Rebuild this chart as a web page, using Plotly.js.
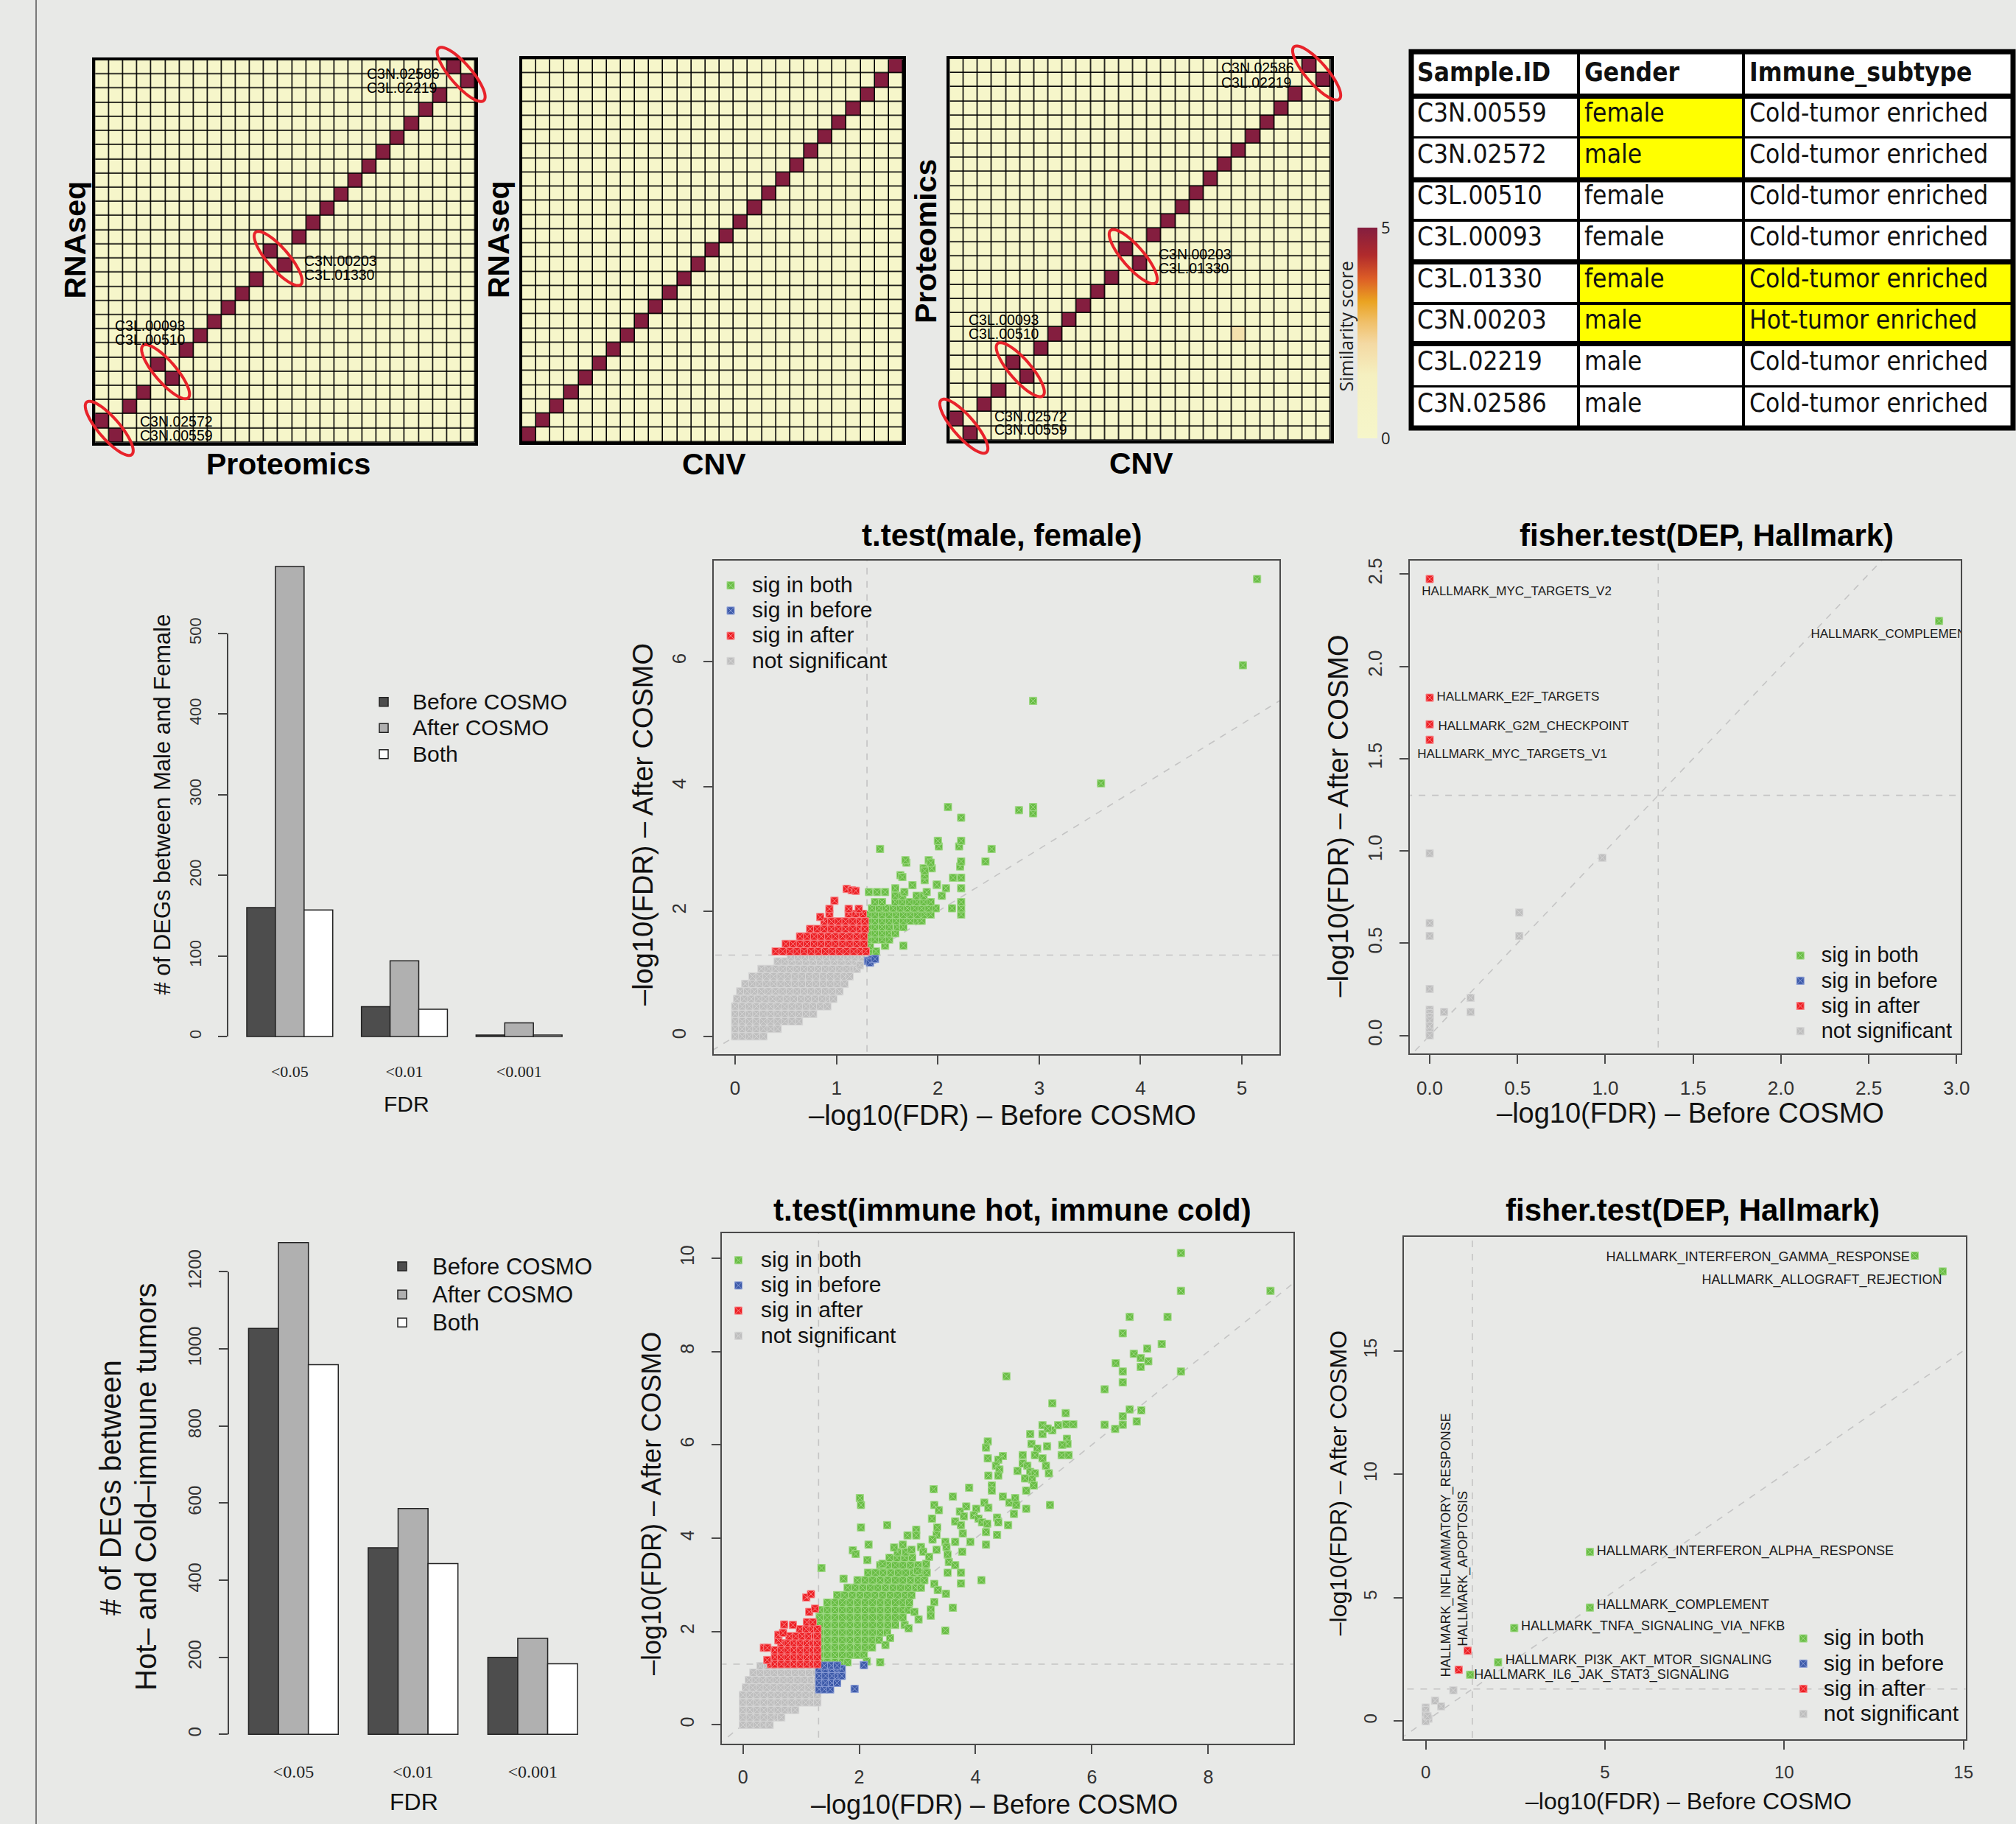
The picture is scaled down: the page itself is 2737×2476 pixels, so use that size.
<!DOCTYPE html>
<html>
<head>
<meta charset="utf-8">
<script src="https://cdn.plot.ly/plotly-3.0.1.min.js"></script>
<style>
html,body{margin:0;padding:0;background:#e8e9e7;}
#chart{width:2737px;height:2476px;}
</style>
</head>
<body>
<div id="chart"></div>
<script>
// ======================= DATA =======================
const sampleCount = 27;
// For each row (row 0 = bottom) the column of the best-matching sample
const rnaVsProtMatch = [1,0,2,3,5,4,6,7,8,9,10,11,13,12,14,15,16,17,18,19,20,21,22,23,24,26,25];
const rnaVsCnvMatch  = [0,1,2,3,4,5,6,7,8,9,10,11,12,13,14,15,16,17,18,19,20,21,22,23,24,25,26];
const protVsCnvMatch = [1,0,2,3,5,4,6,7,8,9,10,11,13,12,14,15,16,17,18,19,20,21,22,23,24,26,25];
const matchScore = 5;
const protVsCnvWeakRow = [7];
const protVsCnvWeakCol = [20];
const protVsCnvWeakScore = [2];
const swappedPairStart = [0, 4, 12, 25];
const heatLabelTexts = ["C3N.02586","C3L.02219","C3N.00203","C3L.01330","C3L.00093","C3L.00510","C3N.02572","C3N.00559"];

// Table
const tableHeader = ["Sample.ID", "Gender", "Immune_subtype"];
const sampleIds = ["C3N.00559","C3N.02572","C3L.00510","C3L.00093","C3L.01330","C3N.00203","C3L.02219","C3N.02586"];
const genders = ["female","male","female","female","female","male","male","male"];
const immuneSubtypes = ["Cold-tumor enriched","Cold-tumor enriched","Cold-tumor enriched","Cold-tumor enriched","Cold-tumor enriched","Hot-tumor enriched","Cold-tumor enriched","Cold-tumor enriched"];
const genderHighlight = [1,1,0,0,1,1,0,0];
const immuneHighlight = [0,0,0,0,1,1,0,0];

// Bar charts
const fdrCats = ["<0.05", "<0.01", "<0.001"];
const sexBefore = [160, 37, 2];
const sexAfter  = [583, 94, 17];
const sexBoth   = [157, 34, 2];
const immBefore = [1053, 484, 200];
const immAfter  = [1276, 586, 249];
const immBoth   = [959, 443, 183];

// Scatter 1: t.test(male, female)  rows = [y, [x...]], pts = [x, y]
const s1NsRows = [
 [0.00,[0,0.07,0.14,0.21,0.28]],
 [0.12,[0,0.07,0.14,0.21,0.28,0.35,0.42]],
 [0.24,[0,0.07,0.14,0.21,0.28,0.35,0.42,0.49,0.56,0.63]],
 [0.36,[0,0.07,0.14,0.21,0.28,0.35,0.42,0.49,0.56,0.63,0.70,0.77]],
 [0.48,[0,0.07,0.14,0.21,0.28,0.35,0.42,0.49,0.56,0.63,0.70,0.77,0.84,0.91]],
 [0.60,[0.02,0.09,0.16,0.23,0.30,0.37,0.44,0.51,0.58,0.65,0.72,0.79,0.86,0.93,0.97]],
 [0.72,[0.05,0.12,0.19,0.26,0.33,0.40,0.47,0.54,0.61,0.68,0.75,0.82,0.89,0.96,1.03]],
 [0.84,[0.10,0.17,0.24,0.31,0.38,0.45,0.52,0.59,0.66,0.73,0.80,0.87,0.94,1.01,1.08]],
 [0.96,[0.17,0.24,0.31,0.38,0.45,0.52,0.59,0.66,0.73,0.80,0.87,0.94,1.01,1.08,1.13]],
 [1.08,[0.26,0.33,0.40,0.47,0.54,0.61,0.68,0.75,0.82,0.89,0.96,1.03,1.10,1.17,1.20]],
 [1.20,[0.42,0.49,0.56,0.63,0.70,0.77,0.84,0.91,0.98,1.05,1.12,1.19,1.25]],
 [1.27,[0.55,0.62,0.69,0.76,0.83,0.90,0.97,1.04,1.11,1.18,1.25]]
];
const s1NsPts = [[1.23,1.14]];
const s1AfterRows = [
 [1.36,[0.40,0.47,0.54,0.61,0.68,0.75,0.82,0.89,0.96,1.03,1.10,1.17,1.24,1.29]],
 [1.48,[0.50,0.57,0.64,0.71,0.78,0.85,0.92,0.99,1.06,1.13,1.20,1.27]],
 [1.60,[0.64,0.71,0.78,0.85,0.92,0.99,1.06,1.13,1.20,1.27]],
 [1.72,[0.74,0.81,0.88,0.95,1.02,1.09,1.16,1.23,1.28]],
 [1.84,[0.88,0.95,1.02,1.09,1.16,1.23,1.28]],
 [1.96,[0.93,1.12,1.19,1.26]],
 [2.04,[0.93,1.12,1.22]]
];
const s1AfterPts = [[0.84,1.91],[0.98,2.17],[1.10,2.36],[1.15,2.34],[1.19,2.33]];
const s1BeforePts = [[1.31,1.21],[1.35,1.23],[1.33,1.18],[1.38,1.24]];
const s1BothRows = [
 [1.36,[1.32,1.39]],
 [1.45,[1.33,1.48,1.66]],
 [1.55,[1.31,1.38,1.45,1.52]],
 [1.65,[1.31,1.38,1.45,1.52,1.58]],
 [1.75,[1.31,1.38,1.45,1.52,1.60,1.66]],
 [1.85,[1.31,1.38,1.45,1.52,1.59,1.66,1.73,1.80,1.84]],
 [1.95,[1.31,1.38,1.45,1.52,1.59,1.66,1.73,1.80,1.87,1.93]],
 [2.05,[1.35,1.42,1.49,1.56,1.63,1.70,1.77,1.84,1.91,1.98]],
 [2.15,[1.38,1.45,1.58,1.65,1.72,1.79,1.86,1.93]],
 [2.25,[1.58,1.65,1.79,1.86]]
];
const s1BothPts = [[2.23,1.95],[2.14,2.05],[2.23,2.05],[2.23,2.15],[2.04,2.25],[1.32,2.31],[1.40,2.31],[1.48,2.31],
 [1.67,2.31],[1.89,2.31],[1.58,2.37],[2.08,2.37],[2.23,2.37],[1.99,2.42],[1.75,2.42],[1.87,2.50],[2.15,2.54],[2.23,2.54],
 [1.63,2.58],[1.87,2.58],[1.86,2.69],[1.94,2.69],[2.22,2.72],[2.47,2.80],[2.23,2.80],[1.69,2.78],[1.65,2.55],[1.68,2.82],
 [1.91,2.82],[1.43,3.00],[2.53,3.00],[2.01,3.04],[2.21,3.04],[2.00,3.13],[2.23,3.13],[2.23,3.50],[2.94,3.57],[2.80,3.62],
 [2.10,3.67],[2.94,3.67],[3.61,4.05],[2.94,5.37],[5.01,5.94],[5.15,7.32],[1.99,2.43],[1.93,2.78],[1.87,2.65]];

// Scatter 2: t.test(immune hot, immune cold)
const s2NsRows = [
 [0.00,[0,0.12,0.24,0.36,0.46]],
 [0.16,[0,0.12,0.24,0.36,0.48,0.60,0.66]],
 [0.32,[0,0.12,0.24,0.36,0.48,0.60,0.72,0.84,0.90]],
 [0.48,[0,0.12,0.24,0.36,0.48,0.60,0.72,0.84,0.96,1.08,1.20,1.28]],
 [0.64,[0,0.12,0.24,0.36,0.48,0.60,0.72,0.84,0.96,1.08,1.20,1.28]],
 [0.80,[0.05,0.17,0.29,0.41,0.53,0.65,0.77,0.89,1.01,1.13,1.25]],
 [0.96,[0.10,0.22,0.34,0.46,0.58,0.70,0.82,0.94,1.06,1.18,1.28]],
 [1.12,[0.18,0.30,0.42,0.54,0.66,0.78,0.90,1.02,1.14,1.26]],
 [1.26,[0.30,0.42,0.54,0.66,0.78,0.90,1.02,1.14,1.26]]
];
const s2NsPts = [];
const s2BeforeRows = [
 [0.76,[1.31,1.40,1.50]],
 [0.90,[1.31,1.42,1.53,1.62]],
 [1.05,[1.31,1.42,1.53,1.64,1.70]],
 [1.20,[1.31,1.42,1.53,1.64,1.70]],
 [1.27,[1.40,1.52,1.62]]
];
const s2BeforePts = [[1.92,0.77],[2.08,1.28]];
const s2AfterRows = [
 [1.30,[0.48,0.55,0.66,0.77,0.88,0.99,1.10,1.21,1.28]],
 [1.45,[0.55,0.66,0.77,0.88,0.99,1.10,1.21,1.28]],
 [1.60,[0.55,0.66,0.77,0.88,0.99,1.10,1.21,1.28]],
 [1.75,[0.66,0.77,0.88,0.99,1.10,1.21,1.28]],
 [1.90,[0.80,0.91,1.02,1.13,1.24,1.28]],
 [2.05,[0.98,1.09,1.20,1.28]],
 [2.20,[1.10,1.20]]
];
const s2AfterPts = [[0.36,1.65],[0.42,1.65],[0.42,1.39],[0.61,1.81],[0.61,1.93],[0.71,2.15],[0.86,2.14],
 [1.14,2.42],[1.24,2.49],[1.09,2.73],[1.17,2.80],[0.69,1.97]];
const s2BothRows = [
 [1.34,[1.32,1.45,1.58,1.71,1.80]],
 [1.50,[1.32,1.45,1.58,1.71,1.84,1.97,2.08]],
 [1.66,[1.32,1.45,1.58,1.71,1.84,1.97,2.10,2.22]],
 [1.82,[1.32,1.45,1.58,1.71,1.84,1.97,2.10,2.23,2.34]],
 [1.98,[1.32,1.45,1.58,1.71,1.84,1.97,2.10,2.23,2.36,2.48]],
 [2.14,[1.32,1.45,1.58,1.71,1.84,1.97,2.10,2.23,2.36,2.49,2.62,2.78]],
 [2.30,[1.32,1.45,1.58,1.71,1.84,1.97,2.10,2.23,2.36,2.49,2.62,2.75]],
 [2.46,[1.32,1.45,1.58,1.71,1.84,1.97,2.10,2.23,2.36,2.49,2.62,2.75,2.85]],
 [2.62,[1.45,1.58,1.71,1.84,1.97,2.10,2.23,2.36,2.49,2.62,2.75,2.86]],
 [2.78,[1.62,1.75,1.88,2.01,2.14,2.27,2.40,2.53,2.66,2.79,2.90]],
 [2.94,[1.80,1.93,2.06,2.19,2.32,2.45,2.58,2.71,2.84,2.97,3.06]],
 [3.10,[1.97,2.10,2.23,2.36,2.49,2.62,2.75,2.88,3.01,3.12]],
 [3.26,[2.15,2.28,2.41,2.54,2.67,2.80,2.93,3.06,3.16]],
 [3.42,[2.36,2.49,2.62,2.75,2.88,3.01,3.14]],
 [3.58,[2.52,2.65,2.78,2.91]],
 [3.70,[2.66,2.80]]
];
const s2BothPts = [[5.32,6.89],[5.55,6.68],[5.56,6.44],[5.68,6.44],[5.15,6.42],[5.15,6.23],[5.32,6.31],[5.42,6.42],[5.24,6.35],
 [4.94,6.23],[4.96,6.02],[4.21,6.07],[4.18,5.94],[5.57,6.13],[5.58,6.02],[5.49,6.00],
 [4.81,5.78],[5.06,5.92],[5.23,5.97],[5.15,5.71],[5.02,5.78],[5.48,5.78],[5.60,5.78],
 [4.47,5.76],[4.39,5.68],[4.21,5.71],[4.35,5.55],[4.41,5.47],[4.81,5.60],[4.89,5.55],[5.21,5.55],
 [4.72,5.44],[4.94,5.42],[5.02,5.39],[4.97,5.26],[5.26,5.39],[4.22,5.34],[4.39,5.34],[4.85,5.28],
 [4.28,5.13],[4.28,5.02],[5.00,5.13],[4.87,5.02],[3.89,5.08],[3.28,5.05],[3.61,4.89],
 [4.47,4.89],[4.58,4.76],[4.68,4.86],[4.70,4.71],[3.29,4.71],[3.37,4.60],[3.84,4.68],[4.01,4.63],
 [4.15,4.76],[4.22,4.65],[4.87,4.63],[5.28,4.71],[4.66,4.52],[3.73,4.57],[3.80,4.47],
 [3.97,4.49],[4.05,4.42],[4.11,4.34],[4.20,4.31],[4.37,4.44],[4.39,4.34],[4.56,4.28],
 [3.25,4.42],[3.65,4.36],[3.75,4.28],[3.78,4.10],[4.18,4.13],[4.18,3.86],[4.37,4.07],[3.91,3.92],
 [3.34,4.23],[3.33,4.07],[3.26,3.97],[3.65,3.92],[3.77,3.71],[2.01,4.86],[2.03,4.71],[2.03,4.23],
 [2.48,4.28],[2.16,3.86],[1.89,3.74],[1.94,3.66],[2.14,3.53],[2.83,4.06],[2.98,4.18],[2.98,4.06],
 [3.06,3.81],[3.10,3.71],[2.75,3.86],[3.48,3.92],[3.50,3.81],[3.52,3.65],[3.54,3.49],[3.52,3.26],
 [3.65,3.42],[3.75,3.26],[3.75,3.03],[4.10,3.10],[3.15,3.45],[3.29,3.02],[3.35,2.89],[3.49,2.81],
 [3.61,2.51],[3.29,2.63],[3.23,2.47],[3.23,2.34],[2.95,2.42],[3.02,2.26],[2.85,2.07],[3.48,2.02],
 [1.35,3.36],[1.73,3.13],[2.53,1.86],[2.45,1.71],[2.36,1.34],[2.13,1.36],
 [3.00,3.30],[3.20,3.60],[2.90,3.75],[3.33,3.75],[2.60,3.80],[2.40,3.45],
 [7.53,10.11],[7.53,9.30],[9.07,9.30],[6.65,8.74],[7.30,8.74],[6.53,8.39],[7.20,8.16],[6.41,7.75],
 [6.53,7.57],[6.72,7.95],[6.84,7.86],[6.95,8.06],[6.84,7.67],[6.97,7.79],[7.53,7.57],[6.22,7.19],
 [6.53,7.34],[6.65,6.76],[6.85,6.74],[6.53,6.61],[6.53,6.43],[6.22,6.43],[6.40,6.34],[6.77,6.50],
 [4.53,7.47]];

// Fisher 1 (male vs female, Hallmark)
const f1AfterPts = [[0,2.473],[0,1.83],[0,1.686],[0,1.602]];
const f1BothPts = [[2.90,2.246]];
const f1BeforePts = [];
const f1NsPts = [[0,0.987],[0.983,0.963],[0,0.609],[0,0.539],[0.51,0.666],[0.51,0.539],[0,0.252],[0,0.14],[0,0.12],
 [0,0.10],[0,0.08],[0,0.05],[0,0.02],[0,0.0],[0.082,0.127],[0.233,0.204],[0.233,0.127]];
const f1LabelText = ["HALLMARK_MYC_TARGETS_V2","HALLMARK_COMPLEMENT","HALLMARK_E2F_TARGETS","HALLMARK_G2M_CHECKPOINT","HALLMARK_MYC_TARGETS_V1"];
const f1LabelX = [-0.045, 2.17, 0.04, 0.048, -0.07];
const f1LabelY = [2.403, 2.171, 1.832, 1.672, 1.521];

// Fisher 2 (immune hot vs cold, Hallmark)
const f2BothPts = [[13.64,18.85],[14.42,18.21],[4.58,6.85],[4.58,4.60],[2.47,3.77],[2.02,2.38],[1.24,1.88]];
const f2AfterPts = [[1.17,2.85],[0.92,2.08]];
const f2BeforePts = [];
const f2NsPts = [[0.77,1.25],[0.26,0.83],[0.43,0.60],[0,0.55],[0,0.45],[0,0.25],[0.08,0.10],[0,0.05],[0,0.0],[0.05,0.2]];
const f2LabelLeftText = ["HALLMARK_INTERFERON_GAMMA_RESPONSE","HALLMARK_ALLOGRAFT_REJECTION"];
const f2LabelLeftX = [13.50, 14.40];
const f2LabelLeftY = [18.75, 17.83];
const f2LabelRightText = ["HALLMARK_INTERFERON_ALPHA_RESPONSE","HALLMARK_COMPLEMENT","HALLMARK_TNFA_SIGNALING_VIA_NFKB","HALLMARK_PI3K_AKT_MTOR_SIGNALING","HALLMARK_IL6_JAK_STAT3_SIGNALING"];
const f2LabelRightX = [4.77, 4.77, 2.66, 2.22, 1.35];
const f2LabelRightY = [6.85, 4.67, 3.80, 2.43, 1.85];
const f2VertText = ["HALLMARK_INFLAMMATORY_RESPONSE","HALLMARK_APOPTOSIS"];
const f2VertX = [0.565, 1.04];
const f2VertY = [7.13, 6.17];

const sigCut = -Math.log10(0.05);

// ======================= STYLE / LAYOUT =======================
const W = 2737, H = 2476;
const BG = '#e8e9e7';
const SANS = '"Liberation Sans", Arial, Helvetica, sans-serif';
const SERIF = '"Liberation Serif", "Times New Roman", serif';
const COND = '"DejaVu Sans Condensed", "DejaVu Sans", sans-serif';
const C_BOTH = '#69bd45', C_BOTH_L = '#a0d987';
const C_BEFORE = '#3d5aa9', C_BEFORE_L = '#8b9ed6';
const C_AFTER = '#ed1f24', C_AFTER_L = '#f88588';
const C_NS = '#bebebe', C_NS_L = '#d6d6d6';
const BAR_BEFORE = '#4d4d4d', BAR_AFTER = '#b0b0b0', BAR_BOTH = '#ffffff';
const heatScale = [[0,'#f6f6ca'],[0.3,'#f5f0c0'],[0.45,'#f4d9a3'],[0.55,'#f0c06a'],[0.65,'#eaa321'],[0.76,'#dc5c26'],[0.87,'#b02a2c'],[1,'#841e3f']];

const PX = x => x / W;
const PY = y => 1 - y / H;

const layout = {
  width: W, height: H, margin: {l:0, r:0, t:0, b:0},
  paper_bgcolor: BG, plot_bgcolor: BG,
  font: {family: SANS, size: 24, color: '#222'},
  showlegend: true, hovermode: false,
  shapes: [], annotations: []
};
const data = [];

function ann(text, x, y, size, opts) {
  layout.annotations.push(Object.assign({
    xref:'paper', yref:'paper', x: PX(x), y: PY(y), text: text, showarrow:false,
    xanchor:'center', yanchor:'middle', font:{family:SANS, size:size, color:'#111'}
  }, opts || {}));
}

// ---------- Heatmaps ----------
const heatBoxes = [
  {n:'',  L:129.2, R:645.2,  T:81.8, B:600.7, match:rnaVsProtMatch, wr:[], wc:[], wv:[], pairs:true},
  {n:'2', L:709,   R:1226,   T:80.3, B:600,   match:rnaVsCnvMatch,  wr:[], wc:[], wv:[], pairs:false},
  {n:'3', L:1289.4,R:1806.7, T:79.9, B:597.7, match:protVsCnvMatch, wr:protVsCnvWeakRow, wc:protVsCnvWeakCol, wv:protVsCnvWeakScore, pairs:true}
];
const idx = Array.from({length: sampleCount}, (_, i) => i);
heatBoxes.forEach((hb, k) => {
  const z = idx.map(r => idx.map(c => (c === hb.match[r] ? matchScore : 0)));
  hb.wr.forEach((r, i) => { z[r][hb.wc[i]] = hb.wv[i]; });
  const tr = {
    type:'heatmap', z: z, x: idx, y: idx, xaxis:'x'+hb.n, yaxis:'y'+hb.n,
    colorscale: heatScale, zmin:0, zmax:matchScore, xgap:1.6, ygap:1.6, hoverinfo:'skip',
    showscale: k === 2
  };
  if (k === 2) {
    tr.colorbar = {x: PX(1843), xanchor:'left', xpad:0, y: PY(452.3), yanchor:'middle', ypad:0,
      len: 285.5, lenmode:'pixels', thickness: 27, thicknessmode:'pixels', outlinewidth:0,
      tickvals:[0, matchScore], ticktext:['0', String(matchScore)], ticks:'', tickfont:{family:'"Open Sans", sans-serif', size:22, color:'#222'}};
  }
  data.push(tr);
  const ax = {range:[-0.5, sampleCount-0.5], showticklabels:false, ticks:'', showgrid:false, zeroline:false,
    showline:true, mirror:true, linecolor:'#000', linewidth:4, fixedrange:true};
  layout['xaxis'+hb.n] = Object.assign({}, ax, {domain:[PX(hb.L), PX(hb.R)], anchor:'y'+hb.n});
  layout['yaxis'+hb.n] = Object.assign({}, ax, {domain:[PY(hb.B), PY(hb.T)], anchor:'x'+hb.n});
  layout.shapes.push({type:'rect', xref:'x'+hb.n+' domain', yref:'y'+hb.n+' domain', x0:0, x1:1, y0:0, y1:1,
    fillcolor:'#000', line:{width:0}, layer:'below'});
  if (hb.pairs) {
    const cw = (hb.R - hb.L) / sampleCount, ch = (hb.B - hb.T) / sampleCount;
    const a = 2.45, b = 0.75, th = -49 * Math.PI / 180;
    swappedPairStart.forEach(c => {
      let d = '';
      for (let i = 0; i <= 60; i++) {
        const t = i / 60 * 2 * Math.PI;
        const ex = a*Math.cos(t)*Math.cos(th) - b*Math.sin(t)*Math.sin(th);
        const ey = a*Math.cos(t)*Math.sin(th) + b*Math.sin(t)*Math.cos(th);
        const X = hb.L + (c + 1 + ex) * cw;
        const Y = hb.B - (c + 1 + ey) * ch;
        d += (i ? 'L' : 'M') + PX(X).toFixed(5) + ',' + PY(Y).toFixed(5);
      }
      layout.shapes.push({type:'path', xref:'paper', yref:'paper', path: d + 'Z', line:{color:'#e8232b', width:4}, layer:'above'});
    });
  }
});
// sample labels next to the swapped pairs
const heatLabelPos = [
  [[496,100],[496,119],[411,353.5],[411,372.7],[154,442],[154,461],[187.5,572],[187.5,591]],
  [[1655.6,92.5],[1655.6,111.7],[1571,345],[1571,364],[1313,434],[1313,453],[1348,565],[1348,583.5]]
];
heatLabelPos.forEach(list => list.forEach((p, i) => {
  ann(heatLabelTexts[i], p[0], p[1], 19.5, {xanchor:'left', font:{family:SANS, size:19.5, color:'#000'}});
}));
ann('<b>RNAseq</b>', 101.5, 326, 41, {textangle:-90, font:{family:SANS, size:41, color:'#000'}});
ann('<b>RNAseq</b>', 677, 326, 41, {textangle:-90, font:{family:SANS, size:41, color:'#000'}});
ann('<b>Proteomics</b>', 1257, 328, 41, {textangle:-90, font:{family:SANS, size:41, color:'#000'}});
ann('<b>Proteomics</b>', 391.4, 630, 41, {font:{family:SANS, size:41, color:'#000'}});
ann('<b>CNV</b>', 969, 630, 41, {font:{family:SANS, size:41, color:'#000'}});
ann('<b>CNV</b>', 1549, 629, 41, {font:{family:SANS, size:41, color:'#000'}});
ann('Similarity score', 1826, 443.5, 25, {textangle:-90, font:{family:'"Open Sans", sans-serif', size:25, color:'#222'}});

// ---------- Table ----------
const TBL = {L:1916, R:2733, T:70.3, B:581};
data.push({
  type:'table',
  domain:{x:[PX(TBL.L), PX(TBL.R)], y:[PY(TBL.B+2), PY(TBL.T)]},
  columnwidth:[227, 224, 366],
  header:{values: tableHeader.map(h => '<b>' + h + '</b>'), height:60, align:'left',
    fill:{color:'#ffffff'}, line:{color:'#000', width:3.5},
    font:{family:COND, size:35, color:'#111'}},
  cells:{values:[sampleIds, genders, immuneSubtypes], height:56.3, align:'left',
    fill:{color:[sampleIds.map(() => '#ffffff'),
                 genderHighlight.map(h => h ? '#ffff00' : '#ffffff'),
                 immuneHighlight.map(h => h ? '#ffff00' : '#ffffff')]},
    line:{color:'#000', width:3.5},
    font:{family:COND, size:35, color:'#111'}}
});
[130.6, 244, 355.5, 466.4].forEach(y => layout.shapes.push({type:'line', xref:'paper', yref:'paper',
  x0:PX(TBL.L), x1:PX(TBL.R), y0:PY(y), y1:PY(y), line:{color:'#000', width:7}, layer:'above'}));
layout.shapes.push({type:'rect', xref:'paper', yref:'paper', x0:PX(TBL.L), x1:PX(TBL.R), y0:PY(TBL.B), y1:PY(TBL.T),
  line:{color:'#000', width:7}, fillcolor:'rgba(0,0,0,0)', layer:'above'});

// ---------- Bar charts ----------
const lg = (t, s) => '<span style="font-size:' + s + 'px">' + t + '</span>';
function barChart(n, dom, xr, yr, yticks, series, legendId, legendFont, legendSize, tickSize, catSize) {
  const names = ['Before COSMO', 'After COSMO', 'Both'];
  const cols = [BAR_BEFORE, BAR_AFTER, BAR_BOTH];
  series.forEach((vals, k) => data.push({
    type:'bar', x: fdrCats, y: vals, xaxis:'x'+n, yaxis:'y'+n, name: lg(names[k], legendSize),
    legend: legendId, marker:{color: cols[k], line:{color:'#222', width:1.5}}, hoverinfo:'skip'
  }));
  layout['xaxis'+n] = {domain:[PX(dom.L), PX(dom.R)], range:xr, anchor:'y'+n, type:'category',
    showline:false, showgrid:false, zeroline:false, ticks:'', fixedrange:true,
    tickfont:{family:SERIF, size:catSize, color:'#222'}};
  layout['yaxis'+n] = {domain:[PY(dom.B), PY(dom.T)], range:yr, anchor:'x'+n, showline:false, showgrid:false,
    zeroline:false, tickvals: yticks, ticks:'outside', ticklen:12, tickwidth:2, tickcolor:'#444', tickangle:-90,
    ticklabelstandoff:14, tickfont:{family:SANS, size:tickSize, color:'#333'}, fixedrange:true};
  layout.shapes.push({type:'line', xref:'paper', yref:'y'+n, x0:PX(dom.L), x1:PX(dom.L),
    y0: yticks[0], y1: yticks[yticks.length-1], line:{color:'#444', width:2}});
}
layout.barmode = 'group';
layout.bargap = 0.25;
layout.bargroupgap = 0;
barChart('4', {L:309, R:781, T:743.1, B:1439.3}, [-0.542, 2.49], [-29.4, 606.6], [0,100,200,300,400,500],
  [sexBefore, sexAfter, sexBoth], 'legend', 25, 30, 22, 22);
barChart('7', {L:310, R:801.2, T:1659.8, B:2388}, [-0.544, 2.48], [-64.3, 1327.3], [0,200,400,600,800,1000,1200],
  [immBefore, immAfter, immBoth], 'legend4', 27, 31, 24, 24);
ann('# of DEGs between Male and Female', 219.5, 1092, 31, {textangle:-90, font:{family:SANS, size:31, color:'#111'}});
ann('FDR', 552, 1498, 30, {font:{family:SANS, size:30, color:'#111'}});
ann('# of DEGs between', 150, 2020, 40, {textangle:-90, font:{family:SANS, size:40, color:'#111'}});
ann('Hot\u2013 and Cold\u2013immune tumors', 198, 2018, 40, {textangle:-90, font:{family:SANS, size:40, color:'#111'}});
ann('FDR', 561.5, 2446, 32, {font:{family:SANS, size:32, color:'#111'}});

// ---------- Scatter plots ----------
function flatten(rows, pts) {
  const x = [], y = [];
  rows.forEach(r => r[1].forEach(v => { x.push(v); y.push(r[0]); }));
  pts.forEach(p => { x.push(p[0]); y.push(p[1]); });
  if (!x.length) { x.push(null); y.push(null); }  // keeps the (empty) category in the legend
  return {x, y};
}
function scatterSet(n, sets, legendId, legendSize) {
  const specs = [
    {key:'ns', name:'not significant', c:C_NS, l:C_NS_L, rank:4},
    {key:'both', name:'sig in both', c:C_BOTH, l:C_BOTH_L, rank:1},
    {key:'before', name:'sig in before', c:C_BEFORE, l:C_BEFORE_L, rank:2},
    {key:'after', name:'sig in after', c:C_AFTER, l:C_AFTER_L, rank:3}
  ];
  specs.forEach(s => {
    const f = flatten(sets[s.key][0], sets[s.key][1]);
    data.push({type:'scatter', mode:'markers', x:f.x, y:f.y, xaxis:'x'+n, yaxis:'y'+n,
      name: lg(s.name, legendSize), legend: legendId, legendrank: s.rank, hoverinfo:'skip',
      marker:{symbol:'square-x', size:10, color:s.c, line:{color:s.l, width:1}}});
  });
}
function scatterAxes(n, box, xr, yr, xdt, ydt, fmt, tickSize) {
  const common = {showgrid:false, zeroline:false, showline:true, mirror:true, linecolor:'#4a4a4a', linewidth:2,
    ticks:'outside', ticklen:12, tickwidth:2, tickcolor:'#4a4a4a', fixedrange:true,
    tickfont:{family:SANS, size:tickSize, color:'#333'}, tick0:0, tickformat:fmt};
  layout['xaxis'+n] = Object.assign({}, common, {domain:[PX(box.L), PX(box.R)], range:xr, anchor:'y'+n, dtick:xdt, ticklabelstandoff:10});
  layout['yaxis'+n] = Object.assign({}, common, {domain:[PY(box.B), PY(box.T)], range:yr, anchor:'x'+n, dtick:ydt, tickangle:-90, ticklabelstandoff:14});
  const dash = {color:'#c4c4c4', width:1.6, dash:'dash'};
  layout.shapes.push({type:'line', xref:'x'+n, yref:'y'+n, x0:sigCut, x1:sigCut, y0:-100, y1:100, line:dash, layer:'below'});
  layout.shapes.push({type:'line', xref:'x'+n, yref:'y'+n, x0:-100, x1:100, y0:sigCut, y1:sigCut, line:dash, layer:'below'});
  layout.shapes.push({type:'line', xref:'x'+n, yref:'y'+n, x0:-100, x1:100, y0:-100, y1:100, line:dash, layer:'below'});
}
scatterAxes('5', {L:969, R:1737, T:761, B:1431}, [-0.211, 5.37], [-0.285, 7.615], 1, 2, '', 26);
scatterSet('5', {ns:[s1NsRows, s1NsPts], both:[s1BothRows, s1BothPts], before:[[], s1BeforePts], after:[s1AfterRows, s1AfterPts]}, 'legend2', 30);
scatterAxes('6', {L:1914.3, R:2661.9, T:761.2, B:1430.4}, [-0.112, 3.023], [-0.099, 2.572], 0.5, 0.5, '.1f', 26);
scatterSet('6', {ns:[[], f1NsPts], both:[[], f1BothPts], before:[[], f1BeforePts], after:[[], f1AfterPts]}, 'legend3', 29);
scatterAxes('8', {L:980.4, R:1755.5, T:1674.3, B:2367}, [-0.357, 9.458], [-0.404, 10.53], 2, 2, '', 25);
scatterSet('8', {ns:[s2NsRows, s2NsPts], both:[s2BothRows, s2BothPts], before:[s2BeforeRows, s2BeforePts], after:[s2AfterRows, s2AfterPts]}, 'legend5', 30);
scatterAxes('9', {L:1906.3, R:2668.6, T:1679.3, B:2361}, [-0.602, 15.06], [-0.734, 19.6], 5, 5, '', 24);
scatterSet('9', {ns:[[], f2NsPts], both:[[], f2BothPts], before:[[], f2BeforePts], after:[[], f2AfterPts]}, 'legend6', 30);

// pathway labels
data.push({type:'scatter', mode:'text', x:f1LabelX, y:f1LabelY, text:f1LabelText, textposition:'middle right',
  xaxis:'x6', yaxis:'y6', showlegend:false, hoverinfo:'skip', cliponaxis:true, textfont:{family:SANS, size:17, color:'#1a1a1a'}});
data.push({type:'scatter', mode:'text', x:f2LabelLeftX, y:f2LabelLeftY, text:f2LabelLeftText, textposition:'middle left',
  xaxis:'x9', yaxis:'y9', showlegend:false, hoverinfo:'skip', cliponaxis:true, textfont:{family:SANS, size:18, color:'#1a1a1a'}});
data.push({type:'scatter', mode:'text', x:f2LabelRightX, y:f2LabelRightY, text:f2LabelRightText, textposition:'middle right',
  xaxis:'x9', yaxis:'y9', showlegend:false, hoverinfo:'skip', cliponaxis:true, textfont:{family:SANS, size:18, color:'#1a1a1a'}});
f2VertText.forEach((t, i) => layout.annotations.push({xref:'x9', yref:'y9', x:f2VertX[i], y:f2VertY[i], text:t,
  showarrow:false, textangle:-90, xanchor:'center', yanchor:'middle', font:{family:SANS, size:18, color:'#1a1a1a'}}));

// titles
const bold = t => '<b>' + t + '</b>';
ann(bold('t.test(male, female)'), 1360, 727, 42, {font:{family:SANS, size:42, color:'#000'}});
ann(bold('fisher.test(DEP, Hallmark)'), 2317, 727, 42, {font:{family:SANS, size:42, color:'#000'}});
ann(bold('t.test(immune hot, immune cold)'), 1374, 1642, 42, {font:{family:SANS, size:42, color:'#000'}});
ann(bold('fisher.test(DEP, Hallmark)'), 2297.5, 1642, 42, {font:{family:SANS, size:42, color:'#000'}});
const XT = '\u2013log10(FDR) \u2013 Before COSMO', YT = '\u2013log10(FDR) \u2013 After COSMO';
ann(XT, 1361, 1513.7, 38, {font:{family:SANS, size:38, color:'#111'}});
ann(YT, 873, 1119, 38, {textangle:-90, font:{family:SANS, size:38, color:'#111'}});
ann(XT, 2294.5, 1511, 38, {font:{family:SANS, size:38, color:'#111'}});
ann(YT, 1816.6, 1108, 38, {textangle:-90, font:{family:SANS, size:38, color:'#111'}});
ann(XT, 1349.6, 2449, 36, {font:{family:SANS, size:36, color:'#111'}});
ann(YT, 884, 2041, 36, {textangle:-90, font:{family:SANS, size:36, color:'#111'}});
ann(XT, 2292.7, 2444.7, 32, {font:{family:SANS, size:32, color:'#111'}});
ann(YT, 1817.8, 2013.4, 32, {textangle:-90, font:{family:SANS, size:32, color:'#111'}});

// legends
function legendAt(id, left, top, size, itemwidth) {
  layout[id] = {x: PX(left), y: PY(top), xanchor:'left', yanchor:'top', bgcolor:'rgba(0,0,0,0)', borderwidth:0,
    font:{family:SANS, size:size, color:'#111'}, itemwidth:itemwidth, tracegroupgap:0, itemclick:false, itemdoubleclick:false};
}
legendAt('legend', 482, 930, 25, 68);
legendAt('legend4', 505, 1695, 27, 72);
legendAt('legend2', 963, 772.6, 24, 48);
legendAt('legend3', 2415.7, 1275, 24, 47);
legendAt('legend5', 972, 1688.6, 24, 51);
legendAt('legend6', 2420.7, 2202, 24, 45);

// left frame line
layout.shapes.push({type:'line', xref:'paper', yref:'paper', x0:PX(49), x1:PX(49), y0:0, y1:1, line:{color:'#7a7a7a', width:2}});

Plotly.newPlot('chart', data, layout, {displayModeBar:false, staticPlot:true});
</script>
</body>
</html>
